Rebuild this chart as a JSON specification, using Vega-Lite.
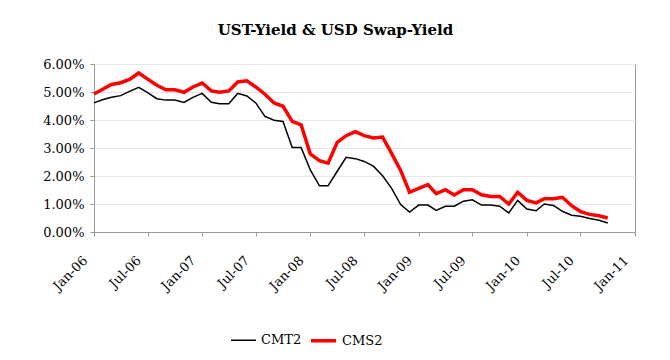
{
  "$schema": "https://vega.github.io/schema/vega-lite/v6.json",
  "autosize": {"type": "none"},
  "width": 541,
  "height": 168,
  "padding": {"left": 94, "top": 64, "right": 35, "bottom": 128},
  "background": "white",
  "title": {
    "text": "UST-Yield & USD Swap-Yield",
    "font": "DejaVu Serif",
    "fontSize": 15,
    "fontWeight": "bold",
    "color": "black",
    "anchor": "middle",
    "frame": "group",
    "dx": -29,
    "offset": 20
  },
  "data": {
    "values": [
      {"date": "2006-01-01", "CMT2": 4.61, "CMS2": 4.93},
      {"date": "2006-02-01", "CMT2": 4.73, "CMS2": 5.11},
      {"date": "2006-03-01", "CMT2": 4.81, "CMS2": 5.27},
      {"date": "2006-04-01", "CMT2": 4.87, "CMS2": 5.33},
      {"date": "2006-05-01", "CMT2": 5.02, "CMS2": 5.45},
      {"date": "2006-06-01", "CMT2": 5.17, "CMS2": 5.68},
      {"date": "2006-07-01", "CMT2": 4.98, "CMS2": 5.46},
      {"date": "2006-08-01", "CMT2": 4.76, "CMS2": 5.24},
      {"date": "2006-09-01", "CMT2": 4.71, "CMS2": 5.08},
      {"date": "2006-10-01", "CMT2": 4.71, "CMS2": 5.08},
      {"date": "2006-11-01", "CMT2": 4.63, "CMS2": 4.99},
      {"date": "2006-12-01", "CMT2": 4.81, "CMS2": 5.18},
      {"date": "2007-01-01", "CMT2": 4.95, "CMS2": 5.32},
      {"date": "2007-02-01", "CMT2": 4.63, "CMS2": 5.04},
      {"date": "2007-03-01", "CMT2": 4.58, "CMS2": 4.99},
      {"date": "2007-04-01", "CMT2": 4.58, "CMS2": 5.04},
      {"date": "2007-05-01", "CMT2": 4.95, "CMS2": 5.36},
      {"date": "2007-06-01", "CMT2": 4.86, "CMS2": 5.40},
      {"date": "2007-07-01", "CMT2": 4.61, "CMS2": 5.18},
      {"date": "2007-08-01", "CMT2": 4.13, "CMS2": 4.92},
      {"date": "2007-09-01", "CMT2": 3.99, "CMS2": 4.61},
      {"date": "2007-10-01", "CMT2": 3.95, "CMS2": 4.49},
      {"date": "2007-11-01", "CMT2": 3.02, "CMS2": 3.95},
      {"date": "2007-12-01", "CMT2": 3.02, "CMS2": 3.83},
      {"date": "2008-01-01", "CMT2": 2.22, "CMS2": 2.79},
      {"date": "2008-02-01", "CMT2": 1.65, "CMS2": 2.55},
      {"date": "2008-03-01", "CMT2": 1.65, "CMS2": 2.46},
      {"date": "2008-04-01", "CMT2": 2.17, "CMS2": 3.20},
      {"date": "2008-05-01", "CMT2": 2.67, "CMS2": 3.44},
      {"date": "2008-06-01", "CMT2": 2.62, "CMS2": 3.58},
      {"date": "2008-07-01", "CMT2": 2.52, "CMS2": 3.44},
      {"date": "2008-08-01", "CMT2": 2.35, "CMS2": 3.36},
      {"date": "2008-09-01", "CMT2": 2.01, "CMS2": 3.39},
      {"date": "2008-10-01", "CMT2": 1.57, "CMS2": 2.82},
      {"date": "2008-11-01", "CMT2": 0.98, "CMS2": 2.20},
      {"date": "2008-12-01", "CMT2": 0.71, "CMS2": 1.42},
      {"date": "2009-01-01", "CMT2": 0.96, "CMS2": 1.56},
      {"date": "2009-02-01", "CMT2": 0.96, "CMS2": 1.69},
      {"date": "2009-03-01", "CMT2": 0.77, "CMS2": 1.37},
      {"date": "2009-04-01", "CMT2": 0.92, "CMS2": 1.51},
      {"date": "2009-05-01", "CMT2": 0.92, "CMS2": 1.32},
      {"date": "2009-06-01", "CMT2": 1.10, "CMS2": 1.51},
      {"date": "2009-07-01", "CMT2": 1.15, "CMS2": 1.51},
      {"date": "2009-08-01", "CMT2": 0.96, "CMS2": 1.33},
      {"date": "2009-09-01", "CMT2": 0.96, "CMS2": 1.27},
      {"date": "2009-10-01", "CMT2": 0.92, "CMS2": 1.27},
      {"date": "2009-11-01", "CMT2": 0.68, "CMS2": 1.00},
      {"date": "2009-12-01", "CMT2": 1.13, "CMS2": 1.42},
      {"date": "2010-01-01", "CMT2": 0.82, "CMS2": 1.13},
      {"date": "2010-02-01", "CMT2": 0.76, "CMS2": 1.04},
      {"date": "2010-03-01", "CMT2": 1.00, "CMS2": 1.19},
      {"date": "2010-04-01", "CMT2": 0.95, "CMS2": 1.19},
      {"date": "2010-05-01", "CMT2": 0.74, "CMS2": 1.24},
      {"date": "2010-06-01", "CMT2": 0.60, "CMS2": 0.94},
      {"date": "2010-07-01", "CMT2": 0.56, "CMS2": 0.73},
      {"date": "2010-08-01", "CMT2": 0.48, "CMS2": 0.63},
      {"date": "2010-09-01", "CMT2": 0.42, "CMS2": 0.58},
      {"date": "2010-10-01", "CMT2": 0.32, "CMS2": 0.50}
    ]
  },
  "transform": [{"fold": ["CMT2", "CMS2"], "as": ["series", "value"]}],
  "mark": {"type": "line", "strokeJoin": "miter"},
  "encoding": {
    "x": {
      "field": "date",
      "type": "temporal",
      "scale": {
        "type": "utc",
        "domain": [
          {"year": 2006, "month": 1, "date": 1, "utc": true},
          {"year": 2011, "month": 1, "date": 1, "utc": true}
        ],
        "nice": false
      },
      "axis": {
        "title": null,
        "labelExpr": "utcFormat(datum.value, '%b-%y')",
        "values": [
          {"year": 2006, "month": 1, "date": 1, "utc": true},
          {"year": 2006, "month": 7, "date": 1, "utc": true},
          {"year": 2007, "month": 1, "date": 1, "utc": true},
          {"year": 2007, "month": 7, "date": 1, "utc": true},
          {"year": 2008, "month": 1, "date": 1, "utc": true},
          {"year": 2008, "month": 7, "date": 1, "utc": true},
          {"year": 2009, "month": 1, "date": 1, "utc": true},
          {"year": 2009, "month": 7, "date": 1, "utc": true},
          {"year": 2010, "month": 1, "date": 1, "utc": true},
          {"year": 2010, "month": 7, "date": 1, "utc": true},
          {"year": 2011, "month": 1, "date": 1, "utc": true}
        ],
        "labelAngle": -45,
        "labelAlign": "right",
        "labelBaseline": "middle",
        "labelFont": "DejaVu Serif",
        "labelFontSize": 13,
        "labelColor": "black",
        "labelPadding": 22,
        "labelOffset": -9,
        "labelOverlap": false,
        "labelFlush": false,
        "grid": false,
        "tickColor": "#999999",
        "tickSize": 4,
        "domainColor": "#999999"
      }
    },
    "y": {
      "field": "value",
      "type": "quantitative",
      "scale": {"domain": [0, 6], "nice": false, "zero": true},
      "axis": {
        "title": null,
        "values": [0, 1, 2, 3, 4, 5, 6],
        "labelExpr": "format(datum.value, '.2f') + '%'",
        "labelFont": "DejaVu Serif",
        "labelFontSize": 13,
        "labelColor": "black",
        "labelPadding": 6,
        "grid": true,
        "gridColor": "#e6e6e6",
        "tickColor": "#999999",
        "tickSize": 4,
        "domainColor": "#999999"
      }
    },
    "color": {
      "field": "series",
      "type": "nominal",
      "sort": ["CMT2", "CMS2"],
      "scale": {"domain": ["CMT2", "CMS2"], "range": ["#000000", "#ff0000"]},
      "legend": {
        "title": null,
        "orient": "none",
        "direction": "horizontal",
        "legendX": 136,
        "legendY": 262,
        "symbolType": "stroke",
        "symbolSize": 625,
        "labelFont": "DejaVu Serif",
        "labelFontSize": 13,
        "labelColor": "black",
        "columnPadding": 2,
        "labelOffset": 4
      }
    },
    "strokeWidth": {
      "field": "series",
      "type": "nominal",
      "sort": ["CMT2", "CMS2"],
      "scale": {"domain": ["CMT2", "CMS2"], "range": [1.5, 3.5]},
      "legend": {
        "title": null,
        "orient": "none",
        "direction": "horizontal",
        "legendX": 136,
        "legendY": 262,
        "symbolType": "stroke",
        "symbolSize": 625,
        "labelFont": "DejaVu Serif",
        "labelFontSize": 13,
        "labelColor": "black",
        "columnPadding": 2,
        "labelOffset": 4
      }
    }
  },
  "config": {
    "view": {"stroke": "#999999", "strokeWidth": 1}
  }
}
